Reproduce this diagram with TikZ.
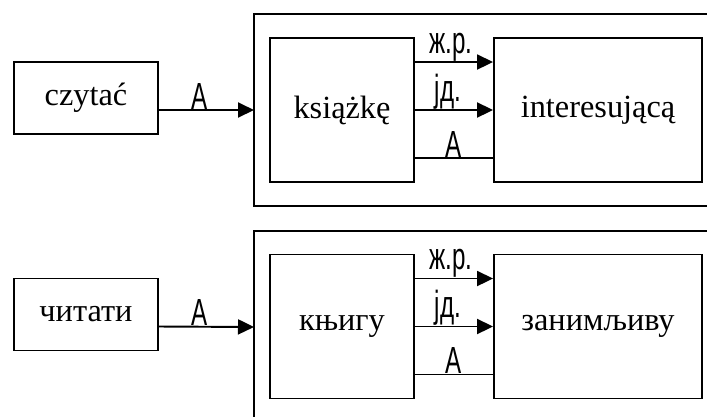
\documentclass[tikz,border=0pt]{standalone}
\usepackage{fontspec}
\setmainfont{Liberation Serif}
\newfontfamily\tagfont[FakeStretch=0.64]{Liberation Sans}
\usetikzlibrary{arrows.meta}

\tikzset{
  word/.style={draw, line width=1.1pt, inner sep=0pt, font=\fontsize{18.4}{22}\selectfont},
  tag/.style={above, inner sep=0pt, font=\tagfont\fontsize{21.5}{26}\selectfont},
  link/.style={line width=1.1pt, -{Triangle[length=3.2mm, width=3mm]}},
  outerframe/.style={line width=1.3pt},
}

\begin{document}
\begin{tikzpicture}[x=0.02cm, y=-0.02cm]

% Canvas (pixel units, y grows downwards)
\useasboundingbox (0,0) rectangle (707,417);

% Polish row
\draw[outerframe] (707,14) -- (254,14) -- (254,206) -- (707,206);
\coordinate (plframe) at (254,110);

\node[word, minimum width=2.88cm, minimum height=1.44cm] (czytac) at (86,98) {czytać};
\node[word, minimum width=2.88cm, minimum height=2.88cm] (ksiazke) at (342,110) {książkę};
\node[word, minimum width=4.16cm, minimum height=2.88cm] (interes) at (598,110) {interesującą};

\draw[link] ([yshift=-0.24cm]czytac.east) -- (plframe) node[tag, pos=0.43] {A};
\draw[link] ([yshift=0.96cm]ksiazke.east) -- ([yshift=0.96cm]interes.west) node[tag, pos=0.46] {ж.р.};
\draw[link] (ksiazke.east) -- (interes.west) node[tag, pos=0.42] {јд.};
\draw[line width=1.1pt] ([yshift=-0.96cm]ksiazke.east) -- ([yshift=-0.96cm]interes.west) node[tag, pos=0.49] {A};

% Serbian row
\draw[outerframe] (707,231) -- (254,231) -- (254,417);
\coordinate (srframe) at (254,327);

\node[word, minimum width=2.88cm, minimum height=1.44cm] (citati) at (86,314.5) {читати};
\node[word, minimum width=2.88cm, minimum height=2.88cm] (knjigu) at (342,326.5) {књигу};
\node[word, minimum width=4.16cm, minimum height=2.88cm] (zanim) at (598,326.5) {занимљиву};

\draw[link] ([yshift=-0.24cm]citati.east) -- (srframe) node[tag, pos=0.43] {A};
\draw[link] ([yshift=0.96cm]knjigu.east) -- ([yshift=0.96cm]zanim.west) node[tag, pos=0.46] {ж.р.};
\draw[link] (knjigu.east) -- (zanim.west) node[tag, pos=0.42] {јд.};
\draw[line width=1.1pt] ([yshift=-0.96cm]knjigu.east) -- ([yshift=-0.96cm]zanim.west) node[tag, pos=0.49] {A};

\end{tikzpicture}
\end{document}
